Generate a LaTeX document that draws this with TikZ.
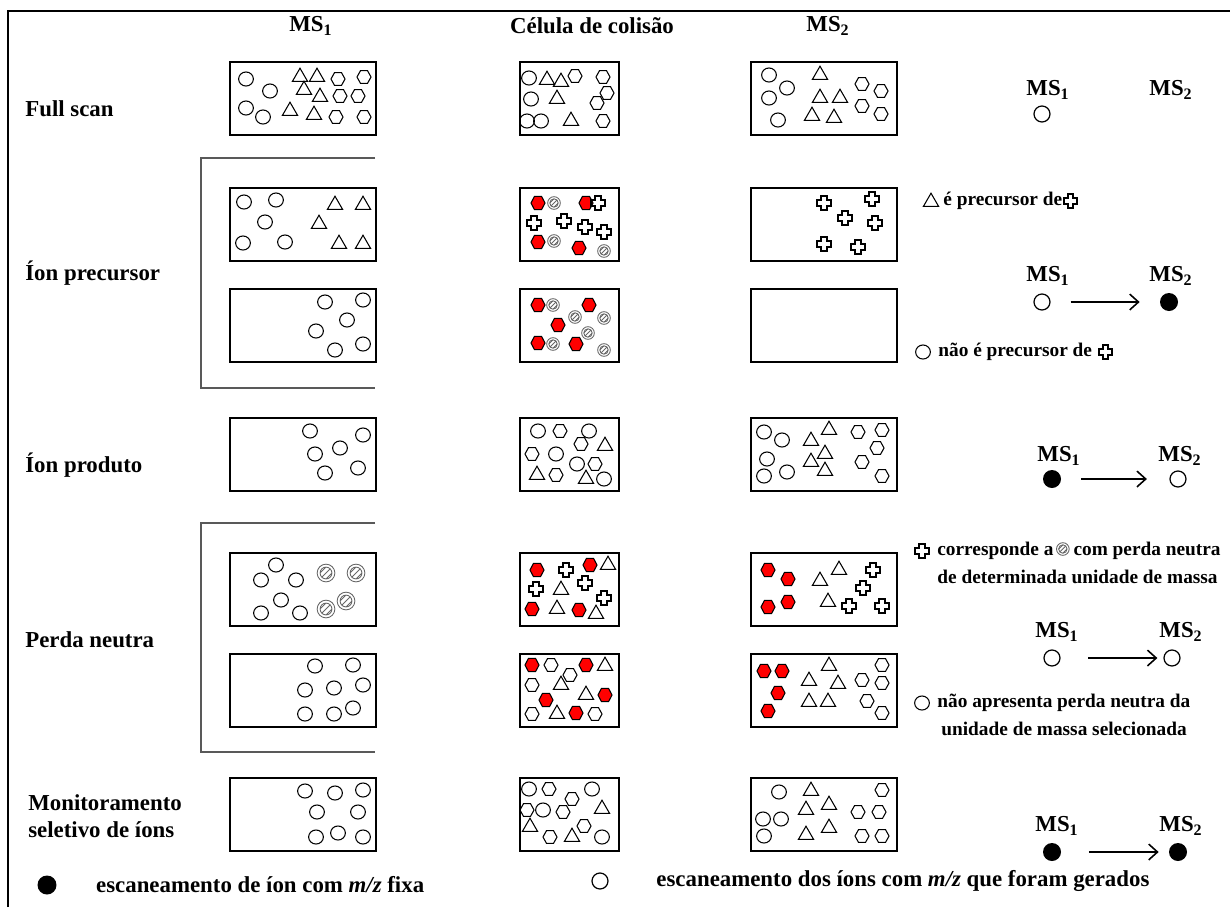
\documentclass[tikz,border=0pt]{standalone}
\usepackage{fontspec}
\setmainfont{Liberation Serif}
\usepackage{tikz}
\usetikzlibrary{positioning,arrows.meta}

\tikzstyle{box} = [draw, line width=1.2pt, inner sep=0pt, anchor=north west, minimum height=1.46cm]
\tikzstyle{wide} = [box, minimum width=2.92cm]
\tikzstyle{narrow} = [box, minimum width=1.98cm]
\tikzstyle{title} = [font=\fontsize{13}{15}\selectfont\bfseries, inner sep=0pt]
\tikzstyle{rowtext} = [title, anchor=west, align=left]
\tikzstyle{note} = [font=\fontsize{11}{13}\selectfont\bfseries, inner sep=0pt, anchor=west]
\tikzstyle{ionopen} = [circle, draw, line width=0.7pt, minimum size=0.32cm, inner sep=0pt]
\tikzstyle{ionfill} = [circle, fill, minimum size=0.36cm, inner sep=0pt]
\tikzstyle{line} = [draw, -{Straight Barb[length=5pt,width=9pt]}, line width=0.9pt]
\tikzstyle{bracket} = [draw, black!65, line width=1pt]

\tikzset{
  ionc/.pic={\draw[line width=0.6pt] (0pt,0pt) circle [x radius=4.2pt, y radius=4pt];},
  iont/.pic={\draw[line width=0.6pt] (90:5pt) -- (210:5pt) -- (330:5pt) -- cycle;},
  ionh/.pic={\draw[line width=0.6pt] (4pt,0pt) -- (2pt,3.6pt) -- (-2pt,3.6pt) -- (-4pt,0pt) -- (-2pt,-3.6pt) -- (2pt,-3.6pt) -- cycle;},
  ionr/.pic={\filldraw[fill=red, line width=0.6pt] (4pt,0pt) -- (2pt,3.8pt) -- (-2pt,3.8pt) -- (-4pt,0pt) -- (-2pt,-3.8pt) -- (2pt,-3.8pt) -- cycle;},
  ionx/.pic={\draw[line width=1.2pt] (-1.5pt,3.8pt) -- (1.5pt,3.8pt) -- (1.5pt,1.5pt) -- (3.8pt,1.5pt) -- (3.8pt,-1.5pt) -- (1.5pt,-1.5pt) -- (1.5pt,-3.8pt) -- (-1.5pt,-3.8pt) -- (-1.5pt,-1.5pt) -- (-3.8pt,-1.5pt) -- (-3.8pt,1.5pt) -- (-1.5pt,1.5pt) -- cycle;},
  ions/.pic={
    \draw[black!60, line width=0.5pt] (0pt,0pt) circle [radius=3.6pt] (0pt,0pt) circle [radius=2.4pt];
    \begin{scope}
      \clip (0pt,0pt) circle [radius=2.4pt];
      \foreach \k in {-1.2,0,1.2}
        \draw[black!60, line width=0.5pt] ({\k*1pt-3pt},{-\k*1pt-3pt}) -- ({\k*1pt+3pt},{-\k*1pt+3pt});
    \end{scope}
  },
}

% symbols of one kind inside a box, offsets in px from its top left corner
\newcommand{\ions}[3]{%
  \begin{scope}[shift={(#1.north west)}]
    \foreach \p/\q in {#3} \pic at (\p,\q) {#2};
  \end{scope}}

\begin{document}
\begin{tikzpicture}[x=0.02cm, y=-0.02cm]
\useasboundingbox (0,0) rectangle (1230,907);

\draw[line width=1.7pt] (8,907) -- (8,11) -- (1230,11);

% headers
\node[title] (head1) at (311,26) {MS\textsubscript{1}};
\node[title] (head2) at (592,26) {Célula de colisão};
\node[title] (head3) at (828,26) {MS\textsubscript{2}};

% row names
\node[rowtext] (full) at (25,109) {Full scan};
\node[rowtext] (prec) at (25,273) {Íon precursor};
\node[rowtext] (prod) at (25,465) {Íon produto};
\node[rowtext] (loss) at (25,640) {Perda neutra};
\node[rowtext] (srm) at (28,816) {Monitoramento\\seletivo de íons};

\draw[bracket] (375,158) -- (201,158) -- (201,388) -- (375,388);
\draw[bracket] (375,523) -- (201,523) -- (201,752) -- (375,752);

% boxes
\node[wide] (full1) at (229,61) {};
\node[narrow] (full2) at (519,61) {};
\node[wide] (full3) at (750,61) {};
\node[wide] (preca1) at (229,187) {};
\node[narrow] (preca2) at (519,187) {};
\node[wide] (preca3) at (750,187) {};
\node[wide] (precb1) at (229,288) {};
\node[narrow] (precb2) at (519,288) {};
\node[wide] (precb3) at (750,288) {};
\node[wide] (prod1) at (229,417) {};
\node[narrow] (prod2) at (519,417) {};
\node[wide] (prod3) at (750,417) {};
\node[wide] (lossa1) at (229,552) {};
\node[narrow] (lossa2) at (519,552) {};
\node[wide] (lossa3) at (750,552) {};
\node[wide] (lossb1) at (229,653) {};
\node[narrow] (lossb2) at (519,653) {};
\node[wide] (lossb3) at (750,653) {};
\node[wide] (srm1) at (229,777) {};
\node[narrow] (srm2) at (519,777) {};
\node[wide] (srm3) at (750,777) {};

% Full scan
\ions{full1}{ionc}{17/18, 41/30, 17/47, 34/56}
\ions{full1}{iont}{71/16, 88/16, 75/29, 91/36, 61/50, 85/54}
\ions{full1}{ionh}{109/18, 135/16, 111/35, 129/35, 107/56, 135/56}
\ions{full2}{ionc}{10/17, 12/38, 8/60, 22/60}
\ions{full2}{iont}{28/19, 42/21, 38/38, 52/60}
\ions{full2}{ionh}{56/15, 84/16, 88/32, 78/42, 84/60}
\ions{full3}{ionc}{19/14, 37/27, 19/37, 28/59}
\ions{full3}{iont}{70/14, 70/37, 90/37, 62/55, 84/57}
\ions{full3}{ionh}{112/23, 131/30, 112/45, 131/53}

% Ion precursor
\ions{preca1}{ionc}{15/15, 47/13, 36/35, 14/56, 56/55}
\ions{preca1}{iont}{106/18, 134/18, 90/37, 110/57, 134/57}
\ions{preca2}{ionr}{19/16, 67/16, 19/55, 60/61}
\ions{preca2}{ions}{35/16, 35/54, 85/64}
\ions{preca2}{ionx}{79/16, 15/36, 45/34, 66/40, 85/45}
\ions{preca3}{ionx}{74/16, 122/12, 95/31, 125/36, 74/57, 108/60}
\ions{precb1}{ionc}{96/14, 134/12, 118/32, 87/43, 106/62, 134/56}
\ions{precb2}{ionr}{19/17, 70/17, 39/37, 19/55, 57/56}
\ions{precb2}{ions}{34/17, 56/29, 85/30, 69/45, 34/56, 85/62}

% Ion produto
\ions{prod1}{ionc}{81/14, 134/18, 111/31, 86/37, 129/51, 96/56}
\ions{prod2}{ionc}{19/14, 70/14, 37/37, 58/47, 85/62}
\ions{prod2}{ionh}{41/14, 62/27, 13/37, 76/47, 37/58}
\ions{prod2}{iont}{86/29, 18/58, 67/62}
\ions{prod3}{ionc}{14/15, 32/23, 17/42, 14/59, 37/55}
\ions{prod3}{iont}{79/13, 61/24, 75/37, 61/45, 75/54}
\ions{prod3}{ionh}{108/15, 132/13, 127/31, 112/45, 132/59}

% Perda neutra
\ions{lossa1}{ionc}{32/28, 47/13, 67/28, 52/48, 32/61, 71/61}
\begin{scope}[shift={(lossa1.north west)}]
  \foreach \p/\q in {97/21, 127/21, 117/49, 97/57} \pic[scale=1.4] at (\p,\q) {ions};
\end{scope}
\ions{lossa2}{ionr}{18/18, 71/13, 13/57, 60/58}
\ions{lossa2}{ionx}{47/18, 17/37, 66/31, 85/46}
\ions{lossa2}{iont}{89/13, 42/38, 38/57, 77/62}
\ions{lossa3}{ionr}{18/18, 38/27, 18/55, 38/50}
\ions{lossa3}{iont}{70/29, 89/18, 78/50}
\ions{lossa3}{ionx}{123/18, 113/36, 99/54, 132/54}
\ions{lossb1}{ionc}{86/13, 124/12, 76/37, 105/35, 134/32, 76/61, 105/61, 124/55}
\ions{lossb2}{ionr}{13/12, 67/12, 27/47, 86/42, 57/60}
\ions{lossb2}{ionh}{32/12, 51/22, 13/32, 13/61, 76/61}
\ions{lossb2}{iont}{86/13, 42/32, 67/42, 38/61}
\ions{lossb3}{ionr}{14/18, 32/18, 28/40, 18/58}
\ions{lossb3}{iont}{79/13, 59/28, 88/31, 59/49, 78/49}
\ions{lossb3}{ionh}{132/12, 112/27, 132/30, 117/48, 132/60}

% Monitoramento seletivo
\ions{srm1}{ionc}{76/14, 106/16, 134/13, 88/35, 129/35, 87/60, 109/56, 134/60}
\ions{srm2}{ionc}{10/12, 73/12, 24/33, 83/60}
\ions{srm2}{ionh}{30/12, 53/22, 8/33, 44/35, 31/60, 65/49}
\ions{srm2}{iont}{83/32, 11/50, 53/60}
\ions{srm3}{ionc}{29/15, 13/42, 31/42, 14/59}
\ions{srm3}{iont}{61/14, 56/33, 79/28, 56/58, 79/51}
\ions{srm3}{ionh}{108/35, 132/13, 129/35, 112/59, 132/59}

% scan modes
\node[title] (fullm1) at (1048,90) {MS\textsubscript{1}};
\node[title] (fullm2) at (1171,90) {MS\textsubscript{2}};
\node[ionopen] (fullc1) at (1042,114) {};

\node[title] (precm1) at (1048,276) {MS\textsubscript{1}};
\node[title] (precm2) at (1171,276) {MS\textsubscript{2}};
\node[ionopen] (precc1) at (1042,302) {};
\node[ionfill] (precc2) at (1169,302) {};
\path[line, shorten <=0.4cm, shorten >=0.4cm] (precc1) -- (precc2);

\node[title] (prodm1) at (1059,456) {MS\textsubscript{1}};
\node[title] (prodm2) at (1180,456) {MS\textsubscript{2}};
\node[ionfill] (prodc1) at (1052,479) {};
\node[ionopen] (prodc2) at (1178,479) {};
\path[line, shorten <=0.4cm, shorten >=0.45cm] (prodc1) -- (prodc2);

\node[title] (lossm1) at (1057,632) {MS\textsubscript{1}};
\node[title] (lossm2) at (1181,632) {MS\textsubscript{2}};
\node[ionopen] (lossc1) at (1052,658) {};
\node[ionopen] (lossc2) at (1172,658) {};
\path[line, shorten <=0.55cm, shorten >=0.12cm] (lossc1) -- (lossc2);

\node[title] (srmm1) at (1057,826) {MS\textsubscript{1}};
\node[title] (srmm2) at (1181,826) {MS\textsubscript{2}};
\node[ionfill] (srmc1) at (1052,852) {};
\node[ionfill] (srmc2) at (1178,852) {};
\path[line, shorten <=0.55cm, shorten >=0.2cm] (srmc1) -- (srmc2);

% notes
\pic at (931,202) {iont};
\node[note] (note1) at (943,201) {é precursor de};
\path (note1.east) ++(8,0) pic {ionx};
\pic at (923,352) {ionc};
\node[note] (note2) at (938,352) {não é precursor de};
\path (note2.east) ++(13,0) pic {ionx};
\pic at (922,551) {ionx};
\node[note] (note3) at (937,551) {corresponde a};
\path (note3.east) ++(9,-2) pic {ions};
\node[note, right=11pt of note3] (note4) {com perda neutra};
\node[note] (note5) at (937,577) {de determinada unidade de massa};
\pic at (922,703) {ionc};
\node[note] (note6) at (937,703) {não apresenta perda neutra da};
\node[note] (note7) at (941,729) {unidade de massa selecionada};

% legend
\node[ionfill, minimum size=0.38cm] (fixed) at (47,885) {};
\node[rowtext, right=0.78cm of fixed] (fixedtext) {escaneamento de íon com \textit{m/z} fixa};
\node[ionopen] (formed) at (600,881) {};
\node[rowtext, right=0.95cm of formed] (formedtext) {escaneamento dos íons com \textit{m/z} que foram gerados};
\end{tikzpicture}
\end{document}
